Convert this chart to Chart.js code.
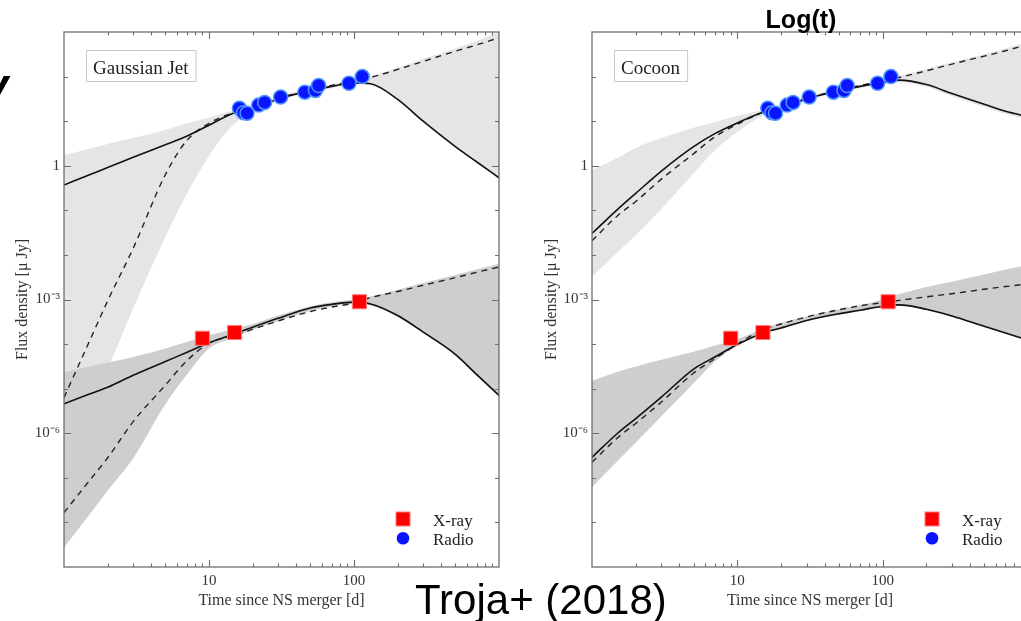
<!DOCTYPE html>
<html>
<head>
<meta charset="utf-8">
<script src="https://cdn.jsdelivr.net/npm/chart.js@4.4.0/dist/chart.umd.min.js"></script>
<style>
  html, body { margin: 0; padding: 0; background: #fff; }
  #page { position: relative; width: 1021px; height: 621px; overflow: hidden; }
  canvas { position: absolute; top: 0; }
  #jet { left: 0; }
  #cocoon { left: 520px; }
  .slide { position: absolute; font-family: 'Liberation Sans', Arial, sans-serif; color: #000; white-space: nowrap; line-height: 1; }
  #logt { left: 801px; top: 7px; font-size: 25px; font-weight: bold; transform: translateX(-50%); }
  #troja { left: 415px; top: 579px; font-size: 42px; }
  #cut { left: -17px; top: 62px; font-size: 46px; font-weight: bold; font-style: italic; }
</style>
</head>
<body>
<div id="page">
  <canvas id="jet" width="520" height="621"></canvas>
  <canvas id="cocoon" width="530" height="621"></canvas>
  <div class="slide" id="logt">Log(t)</div>
  <div class="slide" id="troja">Troja+ (2018)</div>
  <div class="slide" id="cut">y</div>
</div>
<script>
/* Troja+ (2018) – light curves, Gaussian jet vs cocoon */

// ── Data (time in days, flux density in µJy) ─────────────────────────────
const T = [1, 1.5, 2, 3, 5, 7, 10, 15, 20, 30, 50, 70, 100, 130, 200, 300, 500, 700, 1000];

const radioT = [16.2, 17.3, 18.3, 22, 24.2, 31.2, 45.8, 54.2, 57, 92.3, 114];
const radioF = [19.5, 15.5, 15.1, 22.9, 26.3, 34.7, 44.7, 49.0, 63.1, 70.8, 100];
const xrayT  = [9, 15, 109];
const xrayF  = [1.35e-4, 1.82e-4, 8.9e-4];

// Gaussian jet
const jetRadioSolid = [0.37, 0.63, 0.91, 1.55, 2.95, 4.57, 8.1, 15.5, 18.6, 31.6, 47.9, 60.3, 72.4, 69.2, 30.9, 10.0, 2.69, 1.23, 0.537];
const jetRadioDash  = [6.3e-6, 1.17e-4, 9.3e-4, 0.0141, 0.63, 3.63, 8.9, 15.8, 19.5, 32.4, 50.1, 63.1, 79.4, 95.5, 144.5, 218.8, 371.5, 512.9, 741.3];
const jetRadioHi    = [1.74, 2.4, 3.09, 4.17, 6.31, 8.91, 12.0, 17.8, 21.4, 35.5, 53.7, 67.6, 83.2, 100, 158, 251, 427, 631, 1000];
const jetRadioLo    = [1.26e-7, 3.16e-6, 2.69e-5, 6.3e-4, 0.0251, 0.229, 1.66, 8.9, 16.6, 28.8, 43.7, 55, 66.1, 67, 30, 9.8, 2.63, 1.2, 0.525];
const jetXraySolid  = [4.57e-6, 7.6e-6, 1.07e-5, 2.0e-5, 4.07e-5, 6.46e-5, 1.07e-4, 1.70e-4, 2.40e-4, 3.80e-4, 6.46e-4, 7.76e-4, 8.71e-4, 7.94e-4, 4.37e-4, 1.86e-4, 5.9e-5, 2.09e-5, 7.1e-6];
const jetXrayDash   = [1.66e-8, 8.7e-8, 2.82e-7, 1.82e-6, 1.20e-5, 4.17e-5, 1.05e-4, 1.58e-4, 2.14e-4, 3.31e-4, 5.37e-4, 6.76e-4, 8.32e-4, 1.10e-3, 1.51e-3, 2.09e-3, 3.09e-3, 4.07e-3, 5.37e-3];
const jetXrayHi     = [2.34e-5, 3.16e-5, 3.8e-5, 5.13e-5, 7.94e-5, 1.12e-4, 1.58e-4, 2.19e-4, 2.82e-4, 4.37e-4, 7.08e-4, 8.71e-4, 1.0e-3, 1.17e-3, 1.66e-3, 2.34e-3, 3.55e-3, 4.68e-3, 6.31e-3];
const jetXrayLo     = [2.75e-9, 1.51e-8, 5.13e-8, 2.75e-7, 4.47e-6, 2.0e-5, 7.94e-5, 1.41e-4, 2.09e-4, 3.31e-4, 5.5e-4, 7.08e-4, 7.94e-4, 7.41e-4, 4.07e-4, 1.74e-4, 5.5e-5, 1.95e-5, 6.6e-6];

// Cocoon
const cocRadioSolid = [0.0302, 0.105, 0.24, 0.76, 2.69, 5.25, 9.12, 15.8, 20.0, 31.6, 47.9, 60.3, 74.1, 83.2, 66.1, 41.7, 24.0, 16.6, 12.6];
const cocRadioDash  = [0.0209, 0.0759, 0.158, 0.501, 1.86, 4.47, 8.51, 15.8, 20, 32.4, 49, 63.1, 79.4, 95.5, 135, 191, 288, 380, 525];
const cocRadioHi    = [0.79, 1.51, 2.51, 4.17, 7.08, 9.55, 13.2, 17.8, 22.4, 35.5, 52.5, 66.1, 85.1, 105, 148, 209, 316, 427, 603];
const cocRadioLo    = [3.24e-3, 0.0115, 0.0275, 0.107, 0.676, 2.24, 5.75, 13.2, 17.8, 28.8, 43.7, 55, 67.6, 74.1, 58.9, 36.3, 20.9, 14.5, 11.0];
const cocXraySolid  = [2.88e-7, 1.0e-6, 2.14e-6, 6.46e-6, 2.75e-5, 5.13e-5, 9.77e-5, 1.78e-4, 2.29e-4, 3.39e-4, 4.79e-4, 5.75e-4, 7.08e-4, 7.59e-4, 6.03e-4, 4.27e-4, 2.51e-4, 1.78e-4, 1.23e-4];
const cocXrayDash   = [2.24e-7, 7.94e-7, 1.66e-6, 5.01e-6, 2.24e-5, 4.68e-5, 1.0e-4, 2.09e-4, 2.82e-4, 4.07e-4, 5.89e-4, 7.24e-4, 8.51e-4, 9.55e-4, 1.15e-3, 1.35e-3, 1.70e-3, 1.95e-3, 2.24e-3];
const cocXrayHi     = [1.51e-5, 2.4e-5, 3.16e-5, 4.47e-5, 6.76e-5, 9.33e-5, 1.29e-4, 2.24e-4, 3.02e-4, 4.17e-4, 6.03e-4, 7.41e-4, 1.0e-3, 1.32e-3, 1.91e-3, 2.51e-3, 3.63e-3, 4.68e-3, 6.03e-3];
const cocXrayLo     = [6.17e-8, 2.4e-7, 6.17e-7, 2.4e-6, 1.32e-5, 4.07e-5, 9.33e-5, 1.70e-4, 2.19e-4, 3.24e-4, 4.57e-4, 5.5e-4, 6.76e-4, 7.24e-4, 5.75e-4, 4.07e-4, 2.4e-4, 1.7e-4, 1.17e-4];

// Axes
const xTickVals  = [10, 100];
const yTickVals  = [1, 1e-3, 1e-6];
const yTickText  = ['1', '10\u207B\u00B3', '10\u207B\u2076'];
const yMajorVals = [1, 1e-3, 1e-6];

// ── Helpers ───────────────────────────────────────────────────────────────
const SERIF = "'Liberation Serif', 'Times New Roman', serif";
Chart.defaults.font.family = SERIF;
Chart.defaults.color = '#333';

function pts(xs, ys) {
    return xs.map(function (t, i) { return { x: t, y: ys[i] }; });
}

function curve(ys, dashed) {
    return {
        data: pts(T, ys),
        borderColor: dashed ? '#222' : '#111',
        borderWidth: dashed ? 1.4 : 1.6,
        borderDash: dashed ? [6, 5] : [],
        pointRadius: 0,
        cubicInterpolationMode: 'monotone',
        fill: false
    };
}

function band(ys, color, fillTo) {
    return {
        data: pts(T, ys),
        borderWidth: 0,
        borderColor: 'transparent',
        backgroundColor: color,
        pointRadius: 0,
        cubicInterpolationMode: 'monotone',
        fill: fillTo
    };
}

// ── Frame, inward ticks, label box and legend ────────────────────────────
const frameTicks = {
    id: 'frameTicks',
    afterDatasetsDraw(chart, args, opts) {
        const { ctx, chartArea: a, scales: { x, y } } = chart;
        ctx.save();

        // inward ticks on all four sides
        ctx.strokeStyle = '#6e6e6e';
        ctx.lineWidth = 1.1;
        ctx.beginPath();
        [1, 10, 100].forEach(function (dec) {
            for (let m = 1; m <= 9; m++) {
                const v = dec * m;
                if (v <= 1 || v >= 1000) continue;
                const px = Math.round(x.getPixelForValue(v)) + 0.5;
                const len = m === 1 ? 7 : 3.5;
                ctx.moveTo(px, a.bottom); ctx.lineTo(px, a.bottom - len);
                ctx.moveTo(px, a.top);    ctx.lineTo(px, a.top + len);
            }
        });
        for (let e = -8; e <= 2; e++) {
            const v = Math.pow(10, e);
            const py = Math.round(y.getPixelForValue(v)) + 0.5;
            const len = yMajorVals.some(function (m) { return Math.abs(Math.log10(m) - e) < 0.01; }) ? 7 : 4;
            ctx.moveTo(a.left, py);  ctx.lineTo(a.left + len, py);
            ctx.moveTo(a.right, py); ctx.lineTo(a.right - len, py);
        }
        ctx.stroke();

        // frame
        ctx.lineWidth = 1.3;
        ctx.strokeRect(a.left, a.top, a.right - a.left, a.bottom - a.top);

        // model label box
        ctx.font = '19px ' + SERIF;
        const w = ctx.measureText(opts.label).width;
        ctx.fillStyle = '#fff';
        ctx.fillRect(a.left + 22, a.top + 18, w + 14, 31);
        ctx.strokeStyle = '#c8c8c8';
        ctx.lineWidth = 1;
        ctx.strokeRect(a.left + 22.5, a.top + 18.5, w + 14, 31);
        ctx.fillStyle = '#222';
        ctx.textBaseline = 'alphabetic';
        ctx.fillText(opts.label, a.left + 29, a.top + 42);

        // legend
        const lx = a.right - 96;
        ctx.fillStyle = '#ff0000';
        ctx.strokeStyle = '#ff7a7a';
        ctx.fillRect(lx - 7, a.bottom - 55, 14, 14);
        ctx.strokeRect(lx - 7, a.bottom - 55, 14, 14);
        ctx.beginPath();
        ctx.arc(lx, a.bottom - 28.7, 6.3, 0, Math.PI * 2);
        ctx.fillStyle = '#0a14ff';
        ctx.fill();
        ctx.font = '17px ' + SERIF;
        ctx.fillStyle = '#222';
        ctx.fillText('X-ray', a.right - 66, a.bottom - 41.3);
        ctx.fillText('Radio', a.right - 66, a.bottom - 22);

        ctx.restore();
    }
};

// ── Panel builder ────────────────────────────────────────────────────────
function makePanel(canvasId, label, m, yAxisWidth, titlePad, rightPad) {
    const ctx = document.getElementById(canvasId);
    return new Chart(ctx, {
        type: 'line',
        data: {
            datasets: [
                {
                    data: pts(radioT, radioF), showLine: false, pointStyle: 'circle',
                    pointRadius: 7, backgroundColor: '#0a14ff', borderColor: '#4d95ff', borderWidth: 1.5
                },
                {
                    data: pts(xrayT, xrayF), showLine: false, pointStyle: 'rect',
                    pointRadius: 10, backgroundColor: '#ff0000', borderColor: '#ff8080', borderWidth: 1
                },
                curve(m.xraySolid, false),
                curve(m.xrayDash, true),
                curve(m.radioSolid, false),
                curve(m.radioDash, true),
                band(m.xrayHi, '#cecece', '+1'),
                band(m.xrayLo, '#cecece', false),
                band(m.radioHi, '#e5e5e5', '+1'),
                band(m.radioLo, '#e5e5e5', false)
            ]
        },
        options: {
            responsive: false,
            animation: false,
            devicePixelRatio: 1,
            layout: { padding: { top: 32, right: rightPad, left: 0, bottom: 0 } },
            plugins: {
                legend: { display: false },
                tooltip: { enabled: false },
                frameTicks: { label: label }
            },
            scales: {
                x: {
                    type: 'logarithmic',
                    min: 1, max: 1000,
                    grid: { display: false, drawTicks: false },
                    border: { display: false },
                    afterBuildTicks: function (s) { s.ticks = xTickVals.map(function (v) { return { value: v }; }); },
                    afterFit: function (s) { s.height = 54; },
                    ticks: {
                        font: { size: 15 }, padding: 5, maxRotation: 0,
                        callback: function (v) { return String(v); }
                    },
                    title: {
                        display: true, text: 'Time since NS merger [d]',
                        font: { size: 16 }, padding: { top: 0, bottom: 11 }
                    }
                },
                y: {
                    type: 'logarithmic',
                    min: 1e-9, max: 1e3,
                    grid: { display: false, drawTicks: false },
                    border: { display: false },
                    afterBuildTicks: function (s) { s.ticks = yTickVals.map(function (v) { return { value: v }; }); },
                    afterFit: function (s) { s.width = yAxisWidth; },
                    ticks: {
                        font: { size: 15 }, padding: 4,
                        callback: function (v) {
                            const i = yTickVals.findIndex(function (t) { return Math.abs(Math.log10(t) - Math.log10(v)) < 0.01; });
                            return i >= 0 ? yTickText[i] : '';
                        }
                    },
                    title: {
                        display: true, text: 'Flux density [\u03BC Jy]',
                        font: { size: 16 }, padding: { top: titlePad, bottom: 0 }
                    }
                }
            }
        },
        plugins: [frameTicks]
    });
}

makePanel('jet', 'Gaussian Jet', {
    radioSolid: jetRadioSolid, radioDash: jetRadioDash, radioHi: jetRadioHi, radioLo: jetRadioLo,
    xraySolid: jetXraySolid, xrayDash: jetXrayDash, xrayHi: jetXrayHi, xrayLo: jetXrayLo
}, 64, 13, 21);

makePanel('cocoon', 'Cocoon', {
    radioSolid: cocRadioSolid, radioDash: cocRadioDash, radioHi: cocRadioHi, radioLo: cocRadioLo,
    xraySolid: cocXraySolid, xrayDash: cocXrayDash, xrayHi: cocXrayHi, xrayLo: cocXrayLo
}, 72, 22, 22);
</script>
</body>
</html>
